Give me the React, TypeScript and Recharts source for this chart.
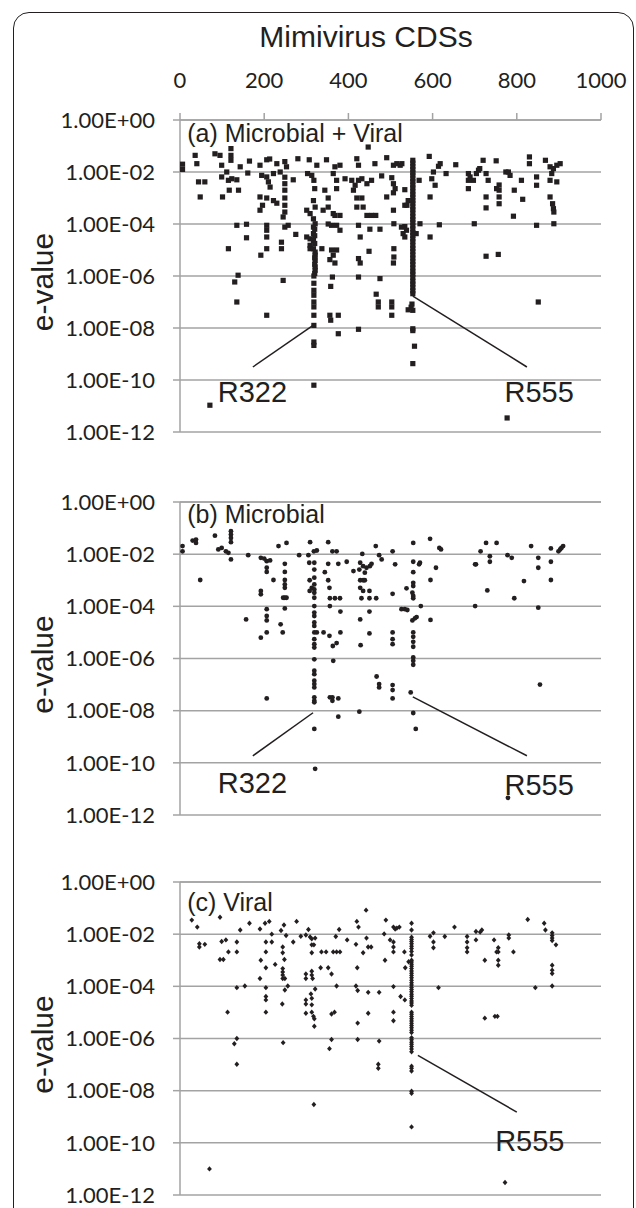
import { ScatterChart, Scatter, XAxis, YAxis, CartesianGrid, ReferenceLine, ReferenceDot } from "recharts";

const cdsTicks = [0, 200, 400, 600, 800, 1000];
// y is log10(e-value): -2 is 1.00E-02
const eValueTicks = [-12, -10, -8, -6, -4, -2, 0];

type Pt = [number, number]; // [CDS number, log10 e-value]

const microbialViral: Pt[] = [
  [6, -1.7], [6, -1.9], [36, -1.36], [40, -1.68], [83, -1.3], [95, -1.36], [99, -1.74], [121, -1.1], [121, -1.36], [121, -1.55],
  [143, -1.8], [165, -1.58], [190, -1.74], [206, -1.53], [213, -1.5], [230, -1.68], [249, -1.6], [253, -1.8], [280, -1.49], [307, -1.53],
  [325, -1.74], [348, -1.53], [368, -1.8], [380, -1.74], [420, -1.49], [424, -1.74], [447, -1.04], [463, -1.68], [491, -1.45], [507, -1.74],
  [515, -1.68], [523, -1.74], [527, -1.68],
  [44, -2.38], [59, -2.38], [48, -2.96], [99, -2.19], [111, -2.0], [115, -2.32], [123, -2.26], [101, -2.96], [117, -2.7], [139, -2.7],
  [135, -2.3], [161, -2.04], [194, -2.13], [206, -2.19], [210, -2.38], [214, -2.58], [222, -2.06], [238, -2.0], [249, -2.2], [249, -2.45],
  [249, -2.7], [269, -2.3], [303, -2.06], [313, -2.13], [318, -2.32], [320, -2.64], [344, -2.7], [372, -2.32], [372, -2.64], [364, -2.06],
  [392, -2.26], [408, -2.32], [416, -2.51], [424, -2.32], [432, -2.26], [444, -2.45], [455, -2.32], [412, -2.7], [479, -2.15], [503, -2.22],
  [507, -2.45], [511, -2.64], [507, -2.8], [491, -2.96], [534, -2.68], [534, -3.28],
  [190, -2.96], [190, -3.47], [196, -3.28], [206, -3.0], [222, -3.1], [230, -3.2], [249, -3.0], [249, -3.28], [249, -3.54], [245, -3.73],
  [301, -3.47], [309, -3.6], [317, -3.1], [321, -3.35], [317, -3.8], [340, -3.47], [352, -3.0], [352, -3.35], [364, -3.6], [368, -3.67],
  [380, -3.67], [420, -3.0], [432, -3.0], [435, -3.35], [444, -3.67], [455, -3.67], [465, -3.67], [420, -3.35], [507, -3.47], [542, -3.1],
  [539, -3.28], [508, -3.99],
  [135, -4.05], [158, -4.01], [158, -4.53], [206, -4.05], [206, -4.24], [206, -4.5], [249, -4.12], [257, -4.05], [275, -4.4], [301, -4.5],
  [309, -4.57], [317, -4.37], [317, -4.12], [321, -3.99], [317, -4.63], [309, -4.82], [352, -4.0], [360, -4.05], [372, -4.05], [380, -4.24],
  [424, -4.05], [428, -4.5], [451, -4.2], [475, -4.2], [241, -4.7], [241, -4.95], [115, -4.95], [192, -5.2], [206, -4.95], [309, -4.95],
  [317, -4.95], [337, -4.95], [321, -5.08], [321, -5.2], [321, -5.4], [321, -5.65], [321, -5.78], [360, -5.0], [364, -5.2], [372, -5.0],
  [368, -5.5], [356, -5.37], [424, -5.33], [428, -5.5], [449, -5.05], [508, -4.95], [508, -5.27], [507, -5.5], [534, -4.1], [530, -4.37],
  [526, -4.12], [538, -4.24], [534, -4.5], [320, -4.2], [320, -4.45], [320, -4.75], [320, -5.3], [320, -5.55], [320, -5.9],
  [138, -5.97], [130, -6.23], [135, -7.0], [206, -7.51], [245, -6.17], [318, -6.0], [318, -6.28], [318, -6.55], [318, -6.74], [318, -7.0],
  [318, -7.19], [318, -7.51], [318, -7.9], [318, -8.54], [318, -8.67], [318, -10.2], [362, -6.04], [358, -6.4], [356, -7.51], [358, -7.7],
  [376, -7.51], [376, -8.22], [424, -6.04], [424, -8.05], [466, -6.7], [471, -7.0], [471, -7.19], [475, -6.1], [503, -7.0], [503, -7.19],
  [503, -7.51], [542, -7.3], [71, -10.97],
  [553, -1.55], [553, -1.66], [553, -1.79], [553, -1.9], [553, -2.03], [553, -2.12], [553, -2.26], [553, -2.37], [553, -2.5], [553, -2.61],
  [553, -2.74], [553, -2.86], [553, -2.97], [553, -3.1], [553, -3.2], [553, -3.34], [553, -3.45], [553, -3.58], [553, -3.71], [553, -3.83],
  [553, -3.94], [553, -4.07], [553, -4.19], [553, -4.33], [553, -4.44], [553, -4.57], [553, -4.68], [553, -4.82], [553, -4.94], [553, -5.06],
  [553, -5.19], [553, -5.31], [553, -5.44], [553, -5.56], [553, -5.69], [553, -5.82], [553, -5.93], [553, -6.06], [553, -6.2], [553, -6.31],
  [553, -6.44], [553, -6.57], [553, -6.68], [551, -7.08], [549, -7.2], [553, -7.32], [553, -8.03], [553, -8.1], [557, -8.7], [553, -9.37],
  [568, -2.32], [570, -3.99], [561, -4.37], [592, -1.4], [602, -2.0], [614, -1.78], [618, -1.68], [606, -2.51], [598, -2.26], [594, -2.96],
  [594, -4.5], [616, -4.03], [632, -2.06], [655, -1.72], [685, -2.06], [685, -2.32], [685, -2.64], [689, -2.19], [697, -2.32], [704, -2.06],
  [709, -1.93], [712, -1.87], [720, -1.55], [727, -2.06], [732, -2.32], [751, -1.57], [699, -3.99], [727, -2.96], [727, -3.38], [727, -5.24],
  [756, -5.17], [758, -2.5], [758, -2.7], [758, -2.96], [758, -3.22], [752, -2.64], [774, -2.0], [780, -2.0], [784, -2.13], [794, -2.7],
  [811, -2.32], [814, -3.05], [792, -3.7], [830, -1.42], [830, -1.68], [847, -2.19], [847, -2.51], [847, -4.05], [851, -7.0], [868, -1.55],
  [879, -1.8], [883, -2.06], [887, -1.87], [895, -1.74], [903, -1.68], [879, -2.32], [895, -2.38], [879, -2.96], [885, -3.22], [887, -3.41],
  [888, -3.54], [888, -3.99], [777, -11.46],
];

const microbial: Pt[] = [
  [6, -1.69], [6, -1.89], [30, -1.48], [38, -1.44], [38, -1.57], [48, -2.99], [83, -1.29], [91, -1.82], [99, -1.76], [109, -1.89],
  [115, -1.95], [121, -2.2], [121, -1.12], [121, -1.25], [121, -1.38], [121, -1.54], [162, -2.04], [192, -2.14], [200, -2.17], [206, -2.27],
  [206, -2.52], [206, -2.68], [214, -2.24], [192, -3.41], [192, -3.54], [206, -4.11], [206, -4.37], [206, -4.54], [206, -5.0], [192, -5.2],
  [157, -4.5], [222, -2.99], [234, -1.69], [253, -1.57], [249, -2.37], [249, -2.68], [249, -2.99], [249, -3.16], [249, -3.29], [249, -3.67],
  [245, -3.67], [253, -3.67], [249, -4.08], [239, -4.69], [244, -5.0], [206, -7.53], [283, -2.04], [309, -1.54], [305, -2.04], [318, -1.89],
  [325, -1.86],
  [319, -2.33], [319, -2.59], [319, -2.9], [319, -3.16], [319, -3.35], [319, -3.48], [319, -3.67], [319, -3.99], [319, -4.24], [319, -4.37],
  [319, -4.62], [319, -4.75], [319, -5.0], [319, -5.26], [319, -5.45], [319, -5.58], [319, -6.03], [319, -6.47], [319, -6.6], [319, -6.85],
  [319, -6.98], [319, -7.11], [319, -7.49], [319, -7.62], [319, -7.68],
  [308, -3.0], [308, -3.41], [313, -3.29], [307, -2.33], [325, -5.0], [341, -5.0], [319, -8.7], [321, -10.23], [344, -2.69], [352, -2.37],
  [352, -3.0], [355, -3.29], [352, -1.54], [362, -1.89], [372, -1.89], [376, -2.37], [356, -3.69], [368, -3.69], [380, -3.69], [356, -3.99],
  [381, -4.2], [381, -5.0], [355, -5.13], [363, -5.52], [372, -5.41], [356, -7.49], [362, -7.49], [376, -7.53], [362, -7.62], [364, -6.09],
  [376, -8.23], [426, -8.04],
  [396, -2.29], [412, -2.65], [428, -2.33], [426, -2.59], [435, -2.46], [439, -2.71], [443, -2.52], [451, -2.46], [455, -2.37], [433, -1.99],
  [465, -1.69], [473, -2.04], [479, -2.2], [428, -3.0], [435, -3.0], [439, -3.0], [428, -3.29], [435, -3.41], [450, -3.41], [431, -3.69],
  [450, -3.69], [466, -3.69], [450, -4.2], [428, -4.5], [429, -5.49], [450, -5.04], [467, -6.69], [473, -6.98], [473, -7.11], [505, -1.89],
  [511, -2.39], [505, -3.52], [505, -5.0], [505, -5.26], [505, -5.45], [505, -7.02], [505, -7.21], [505, -7.53], [526, -4.11], [534, -4.11],
  [540, -4.14], [538, -3.31],
  [554, -1.57], [554, -2.29], [554, -2.69], [554, -3.1], [554, -3.22], [552, -3.48], [554, -3.6], [554, -3.69], [552, -4.54], [554, -5.0],
  [554, -5.17], [554, -5.36], [554, -5.55], [554, -5.96], [554, -6.09], [554, -6.24], [548, -7.3], [554, -8.09], [560, -8.7],
  [570, -2.33], [568, -2.39], [572, -3.99], [562, -4.41], [558, -4.46], [594, -1.41], [616, -1.76], [620, -1.82], [608, -2.52], [595, -2.99],
  [595, -4.52], [701, -2.39], [703, -2.39], [701, -3.99], [714, -1.89], [727, -1.57], [736, -2.08], [736, -2.29], [730, -3.39], [752, -1.57],
  [778, -2.04], [788, -2.14], [817, -3.03], [794, -3.69], [834, -1.69], [851, -2.14], [851, -2.52], [851, -4.05], [855, -7.0], [881, -1.78],
  [881, -2.29], [881, -2.99], [899, -1.89], [903, -1.82], [906, -1.76], [910, -1.69], [779, -11.34],
];

const viral: Pt[] = [
  [28, -1.46], [41, -1.73], [46, -2.37], [46, -2.49], [59, -2.39], [95, -1.35], [99, -2.28], [109, -2.22], [95, -2.97], [103, -2.97],
  [115, -2.68], [135, -2.3], [135, -2.68], [143, -1.84], [165, -1.58], [135, -4.05], [154, -3.99], [113, -4.99], [135, -6.0], [129, -6.2],
  [135, -6.99], [70, -11.0],
  [190, -1.8], [202, -1.58], [212, -1.51], [204, -2.3], [218, -2.3], [204, -2.68], [192, -3.0], [190, -3.7], [204, -3.29], [226, -3.16],
  [204, -4.05], [204, -4.39], [204, -4.52], [204, -4.99], [218, -2.0],
  [240, -1.86], [247, -1.65], [252, -2.05], [244, -2.49], [244, -2.71], [248, -2.97], [244, -3.32], [244, -3.45], [244, -3.57], [244, -3.7],
  [249, -3.7], [249, -4.14], [256, -3.99], [243, -4.68], [245, -6.16],
  [269, -2.3], [277, -1.51], [287, -2.08], [299, -2.03], [305, -1.82], [309, -2.11], [313, -2.18], [313, -2.41], [318, -2.41], [321, -2.15],
  [313, -2.71], [299, -3.53], [299, -3.7], [313, -3.42], [313, -3.57], [315, -3.7], [321, -4.1], [311, -4.29], [313, -4.46], [299, -4.52],
  [299, -4.68], [313, -4.71], [299, -5.03], [313, -4.99], [317, -5.15], [319, -5.24], [319, -5.53], [318, -8.53],
  [336, -2.68], [347, -2.68], [364, -2.68], [372, -2.68], [380, -2.68], [334, -3.29], [352, -3.29], [360, -3.53], [372, -3.99], [360, -5.06],
  [367, -4.99], [360, -6.04], [355, -6.39], [370, -2.09], [378, -1.82], [397, -2.22],
  [420, -1.51], [424, -1.73], [418, -2.39], [435, -2.71], [443, -2.15], [447, -2.49], [454, -2.49], [442, -1.08], [421, -3.29], [418, -3.99],
  [422, -4.16], [447, -4.23], [473, -4.23], [447, -5.03], [422, -5.41], [422, -6.04], [473, -6.1], [471, -6.99], [471, -7.14],
  [489, -1.46], [485, -1.99], [499, -2.22], [507, -1.73], [511, -1.8], [507, -2.3], [507, -2.49], [507, -2.68], [515, -1.77], [521, -1.73],
  [487, -3.0], [507, -4.01], [524, -4.39], [534, -4.52], [507, -4.99], [507, -5.32], [533, -2.68], [535, -3.29], [543, -3.06],
  [550, -1.58], [550, -1.84], [550, -2.12], [550, -2.2], [550, -2.28], [550, -2.37], [550, -2.46], [550, -2.55], [550, -2.66], [550, -2.8],
  [550, -3.0], [550, -3.07], [550, -3.15], [550, -3.23], [550, -3.32], [550, -3.41], [550, -3.5], [550, -3.58], [550, -3.67], [550, -3.77],
  [550, -3.86], [550, -3.95], [550, -4.04], [550, -4.12], [550, -4.21], [550, -4.3], [550, -4.38], [550, -4.47], [550, -4.56], [550, -4.64],
  [550, -4.73], [550, -4.99], [550, -5.07], [550, -5.16], [550, -5.24], [550, -5.33], [550, -5.42], [550, -5.5], [550, -5.59], [550, -5.68],
  [550, -5.77], [550, -5.97], [550, -6.05], [550, -6.14], [550, -6.22], [550, -6.31], [550, -6.4], [550, -6.51], [550, -7.06], [550, -7.14],
  [550, -7.25], [550, -8.02], [550, -8.1], [550, -9.39],
  [594, -2.08], [602, -1.95], [602, -2.3], [602, -2.52], [629, -2.09], [614, -4.05], [652, -1.73], [682, -2.09], [682, -2.3], [682, -2.52],
  [682, -2.68], [703, -1.9], [703, -2.22], [713, -1.92], [717, -1.84], [724, -3.0], [724, -5.22], [748, -5.15], [754, -5.15], [746, -2.22],
  [756, -2.52], [756, -2.68], [752, -2.68], [756, -3.0], [756, -3.19], [781, -2.03], [781, -2.15], [792, -2.68], [772, -11.52], [826, -1.44],
  [865, -1.58], [868, -1.84], [844, -4.05], [884, -1.95], [884, -2.05], [884, -2.15], [884, -2.24], [893, -2.41], [884, -3.19], [884, -3.38],
  [884, -3.51], [884, -3.99],
];

const INK = "#231f20";
const GRID = "#a3a3a3";
const TICK_FONT = "Lato, 'DejaVu Sans', sans-serif";
const ARIAL = "'Liberation Sans', Arial, sans-serif";

const formatEValue = (v: number) => `1.00E${v < 0 ? "-" : "+"}${String(Math.abs(v)).padStart(2, "0")}`;

const squareMark = (p: any) => <rect x={p.cx - 2.6} y={p.cy - 2.6} width={5.2} height={5.2} fill={INK} />;
const dotMark = (p: any) => <circle cx={p.cx} cy={p.cy} r={2.4} fill={INK} />;
const diamondMark = (p: any) => (
  <path d={`M${p.cx} ${p.cy - 2.7}L${p.cx + 2.4} ${p.cy}L${p.cx} ${p.cy + 2.7}L${p.cx - 2.4} ${p.cy}Z`} fill={INK} />
);

type Note = { text: string; at: Pt; line: [Pt, Pt] };

// chart boxes overlap a little so the bottom tick label of each panel is not clipped
const panels = [
  {
    name: "(a) Microbial + Viral", points: microbialViral, mark: squareMark,
    top: 0, height: 460, marginTop: 80, axisHeight: 40, marginBottom: 28, showCds: true, nameAt: [17, -0.85] as Pt,
    notes: [
      { text: "R322", at: [172, -10.85], line: [[316, -7.9], [173, -9.5]] },
      { text: "R555", at: [853, -10.85], line: [[553, -6.77], [824, -9.5]] },
    ] as Note[],
  },
  {
    name: "(b) Microbial", points: microbial, mark: dotMark,
    top: 440, height: 400, marginTop: 42, axisHeight: 20, marginBottom: 25, showCds: false, nameAt: [17, -0.8] as Pt,
    notes: [
      { text: "R322", at: [172, -11.15], line: [[316, -8.08], [173, -9.73]] },
      { text: "R555", at: [853, -11.23], line: [[553, -7.47], [824, -9.73]] },
    ] as Note[],
  },
  {
    name: "(c) Viral", points: viral, mark: diamondMark,
    top: 820, height: 420, marginTop: 42, axisHeight: 20, marginBottom: 45, showCds: false, nameAt: [17, -1.1] as Pt,
    notes: [
      { text: "R555", at: [831, -10.3], line: [[565, -6.65], [800, -8.82]] },
    ] as Note[],
  },
];

const evalueLabel = (props: any) => {
  const vb = props.viewBox || { x: 0, y: 0, height: 0 };
  const x = vb.x + 53;
  const y = vb.y + vb.height / 2 + 6;
  return (
    <text x={x} y={y} transform={`rotate(-90 ${x} ${y})`} textAnchor="middle" fontSize={30} fontFamily={ARIAL} fill={INK}>
      e-value
    </text>
  );
};

export default function App() {
  return (
    <div style={{ position: "absolute", left: 0, top: 0, width: 636, height: 1208, overflow: "hidden", background: "#fff" }}>
      <div
        style={{
          position: "absolute", left: 13, top: 12, width: 621, height: 1260, boxSizing: "border-box",
          border: `1.6px solid ${INK}`, borderRadius: 16,
        }}
      />
      <div
        style={{
          position: "absolute", left: 166, top: 22, width: 400, textAlign: "center",
          fontFamily: ARIAL, fontSize: 30, lineHeight: "30px", color: INK,
        }}
      >
        Mimivirus CDSs
      </div>
      {panels.map((p) => (
        <div key={p.name} style={{ position: "absolute", left: 0, top: p.top }}>
          <ScatterChart width={636} height={p.height} margin={{ top: p.marginTop, right: 35, bottom: p.marginBottom, left: 0 }}>
            <CartesianGrid vertical={false} stroke={GRID} strokeWidth={1.5} />
            <XAxis
              type="number" dataKey="cds" orientation="top" domain={[0, 1000]} ticks={cdsTicks} interval={0}
              height={p.axisHeight} tickSize={7} tickMargin={25}
              axisLine={{ stroke: GRID, strokeWidth: 1.5 }} tickLine={{ stroke: GRID, strokeWidth: 1.5 }}
              tick={p.showCds ? { fontSize: 22, fontFamily: TICK_FONT, fill: INK } : false}
            />
            <YAxis
              type="number" dataKey="logE" domain={[-12, 0]} ticks={eValueTicks} interval={0} width={180}
              tickSize={7} tickMargin={18} tickFormatter={formatEValue}
              axisLine={{ stroke: GRID, strokeWidth: 1.5 }} tickLine={{ stroke: GRID, strokeWidth: 1.5 }}
              tick={{ fontSize: 22, fontFamily: TICK_FONT, fill: INK }}
              label={{ content: evalueLabel }}
            />
            <Scatter
              data={p.points.map(([cds, logE]) => ({ cds, logE }))}
              shape={p.mark}
              isAnimationActive={false}
            />
            {p.notes.map((n) => (
              <ReferenceLine
                key={n.text + "-line"}
                segment={[{ x: n.line[0][0], y: n.line[0][1] }, { x: n.line[1][0], y: n.line[1][1] }]}
                stroke={INK} strokeWidth={1.5}
              />
            ))}
            {p.notes.map((n) => (
              <ReferenceDot
                key={n.text}
                x={n.at[0]} y={n.at[1]} r={0}
                shape={(s: any) => (
                  <text x={s.cx} y={s.cy} textAnchor="middle" fontSize={29} fontFamily={ARIAL} fill={INK}>{n.text}</text>
                )}
              />
            ))}
            <ReferenceDot
              x={p.nameAt[0]} y={p.nameAt[1]} r={0}
              shape={(s: any) => (
                <text x={s.cx} y={s.cy} fontSize={25} fontFamily={ARIAL} fill={INK}>{p.name}</text>
              )}
            />
          </ScatterChart>
        </div>
      ))}
    </div>
  );
}
